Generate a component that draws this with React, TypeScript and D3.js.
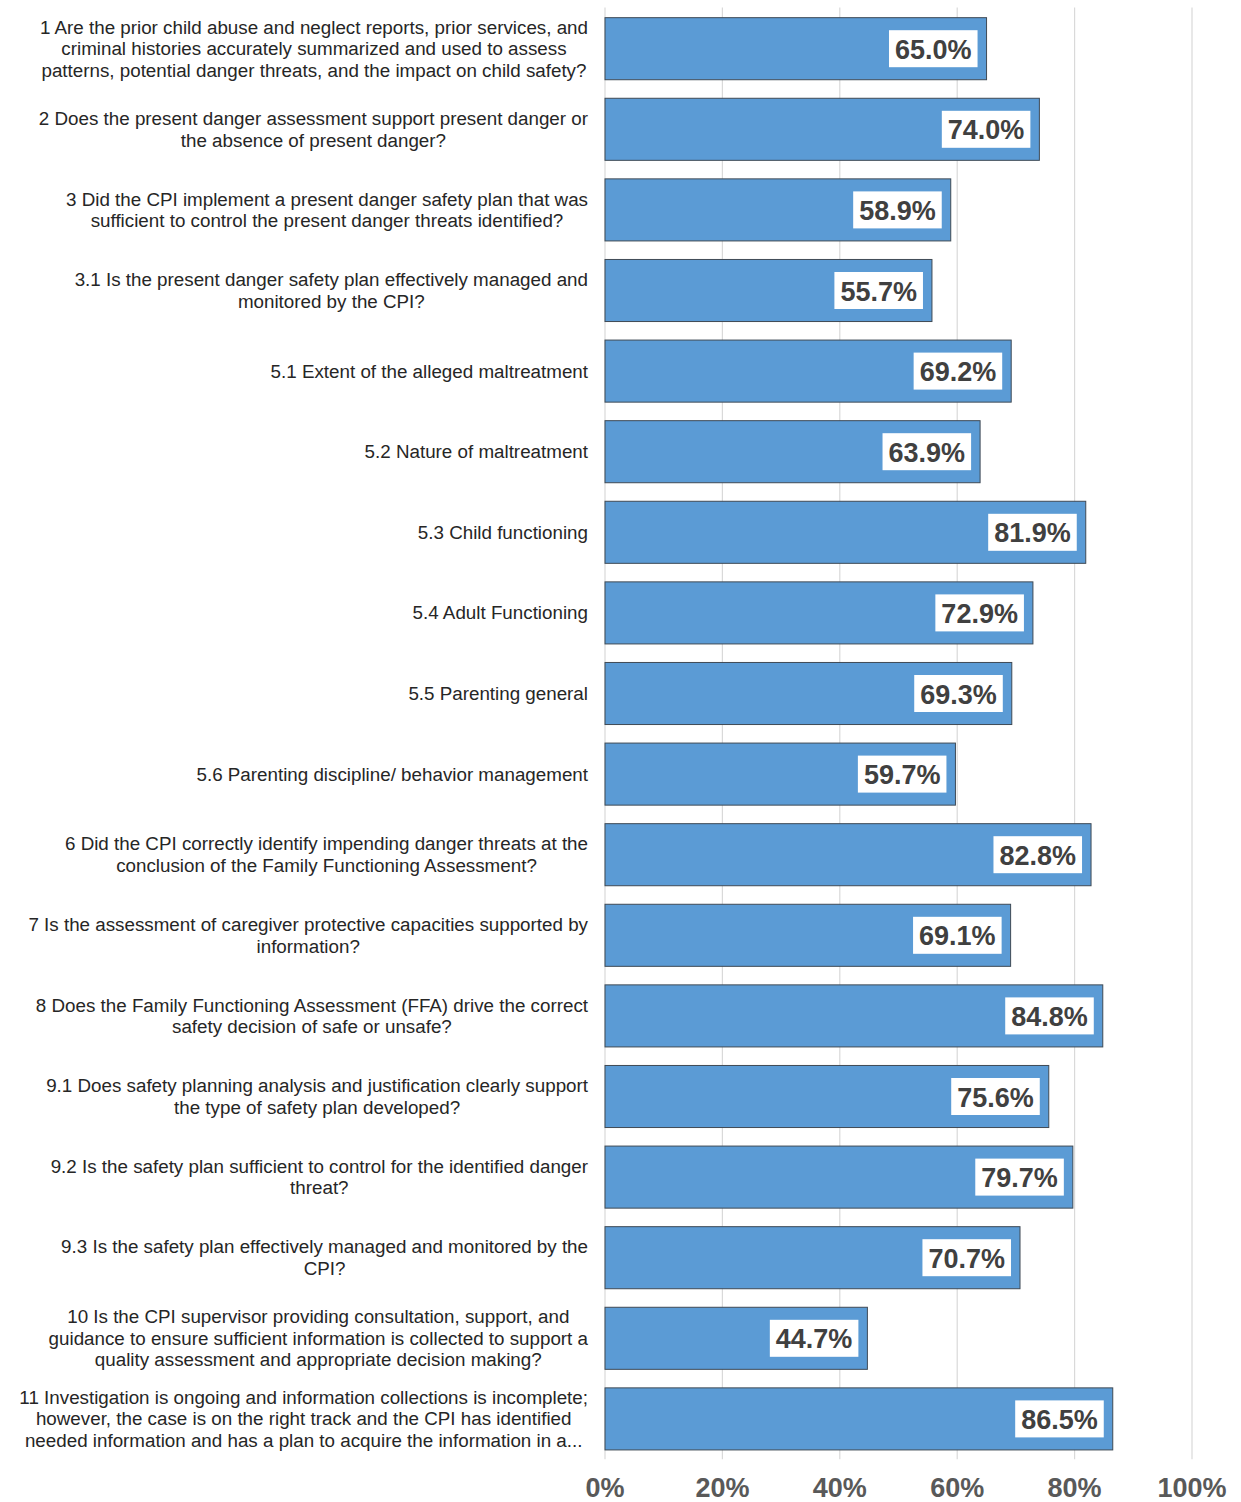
import React, { useEffect, useRef } from "react";
import * as d3 from "d3";

const categories: string[][] = [
  ["1 Are the prior child abuse and neglect reports, prior services, and", "criminal histories accurately summarized and used to assess", "patterns, potential danger threats, and the impact on child safety?"],
  ["2 Does the present danger assessment support present danger or", "the absence of present danger?"],
  ["3 Did the CPI implement a present danger safety plan that was", "sufficient to control the present danger threats identified?"],
  ["3.1 Is the present danger safety plan effectively managed and", "monitored by the CPI?"],
  ["5.1 Extent of the alleged maltreatment"],
  ["5.2 Nature of maltreatment"],
  ["5.3 Child functioning"],
  ["5.4 Adult Functioning"],
  ["5.5 Parenting general"],
  ["5.6 Parenting discipline/ behavior management"],
  ["6 Did the CPI correctly identify impending danger threats at the", "conclusion of the Family Functioning Assessment?"],
  ["7 Is the assessment of caregiver protective capacities supported by", "information?"],
  ["8 Does the Family Functioning Assessment (FFA) drive the correct", "safety decision of safe or unsafe?"],
  ["9.1 Does safety planning analysis and justification clearly support", "the type of safety plan developed?"],
  ["9.2 Is the safety plan sufficient to control for the identified danger", "threat?"],
  ["9.3 Is the safety plan effectively managed and monitored by the", "CPI?"],
  ["10 Is the CPI supervisor providing consultation, support, and", "guidance to ensure sufficient information is collected to support a", "quality assessment and appropriate decision making?"],
  ["11 Investigation is ongoing and information collections is incomplete;", "however, the case is on the right track and the CPI has identified", "needed information and has a plan to acquire the information in a..."],
];

const values: number[] = [65.0, 74.0, 58.9, 55.7, 69.2, 63.9, 81.9, 72.9, 69.3, 59.7, 82.8, 69.1, 84.8, 75.6, 79.7, 70.7, 44.7, 86.5];

const ticks: number[] = [0, 20, 40, 60, 80, 100];

export default function App() {
  const ref = useRef<SVGSVGElement | null>(null);

  useEffect(() => {
    document.body.style.margin = "0";
    const svg = d3.select(ref.current);
    svg.selectAll("*").remove();

    const x = d3.scaleLinear().domain([0, 100]).range([605, 1192]);
    const ids = categories.map((_, i) => String(i));
    const y = d3
      .scaleBand<string>()
      .domain(ids)
      .range([8.4, 8.4 + 18 * 80.6])
      .paddingInner(0.23)
      .paddingOuter(0.115);

    const top = y.range()[0] - 1;
    const bottom = y.range()[1];

    svg
      .append("g")
      .selectAll("line")
      .data(ticks)
      .join("line")
      .attr("x1", (d) => x(d))
      .attr("x2", (d) => x(d))
      .attr("y1", top)
      .attr("y2", bottom)
      .attr("stroke", "#D9D9D9")
      .attr("stroke-width", 1.2);

    svg
      .append("g")
      .selectAll("rect")
      .data(values)
      .join("rect")
      .attr("x", x(0))
      .attr("y", (_, i) => y(String(i))!)
      .attr("width", (d) => x(d) - x(0))
      .attr("height", y.bandwidth())
      .attr("fill", "#5B9BD5")
      .attr("stroke", "#3F4A55")
      .attr("stroke-width", 1);

    const vg = svg.append("g");
    values.forEach((v, i) => {
      const cy = y(String(i))! + y.bandwidth() / 2;
      const g = vg.append("g");
      const t = g
        .append("text")
        .text(v.toFixed(1) + "%")
        .attr("font-family", "Liberation Sans, Arial, sans-serif")
        .attr("font-weight", "bold")
        .attr("font-size", 27)
        .attr("fill", "#404040")
        .attr("text-anchor", "end")
        .attr("dominant-baseline", "central");
      const tw = (t.node() as SVGTextElement).getComputedTextLength();
      const right = x(v) - 9;
      const bw = tw + 12;
      g.insert("rect", "text")
        .attr("x", right - bw)
        .attr("y", cy - 18.5)
        .attr("width", bw)
        .attr("height", 37)
        .attr("fill", "#FFFFFF");
      t.attr("x", right - 6).attr("y", cy + 1);
    });

    const lg = svg.append("g");
    const lineH = 21.5;
    categories.forEach((lines, i) => {
      const cy = y(String(i))! + y.bandwidth() / 2;
      const g = lg.append("g");
      const texts = lines.map((ln, k) =>
        g
          .append("text")
          .text(ln)
          .attr("font-family", "Liberation Sans, Arial, sans-serif")
          .attr("font-size", 18.8)
          .attr("fill", "#262626")
          .attr("text-anchor", "middle")
          .attr("dominant-baseline", "central")
          .attr("y", cy + (k - (lines.length - 1) / 2) * lineH)
      );
      const maxW = d3.max(texts, (t) => (t.node() as SVGTextElement).getComputedTextLength()) || 0;
      texts.forEach((t) => t.attr("x", 588 - maxW / 2));
    });

    svg
      .append("g")
      .selectAll("text")
      .data(ticks)
      .join("text")
      .attr("x", (d) => x(d))
      .attr("y", 1497)
      .attr("text-anchor", "middle")
      .attr("font-family", "Liberation Sans, Arial, sans-serif")
      .attr("font-weight", "bold")
      .attr("font-size", 27)
      .attr("fill", "#595959")
      .text((d) => d + "%");
  }, []);

  return <svg ref={ref} width={1241} height={1502} style={{ display: "block", background: "#fff" }} />;
}
